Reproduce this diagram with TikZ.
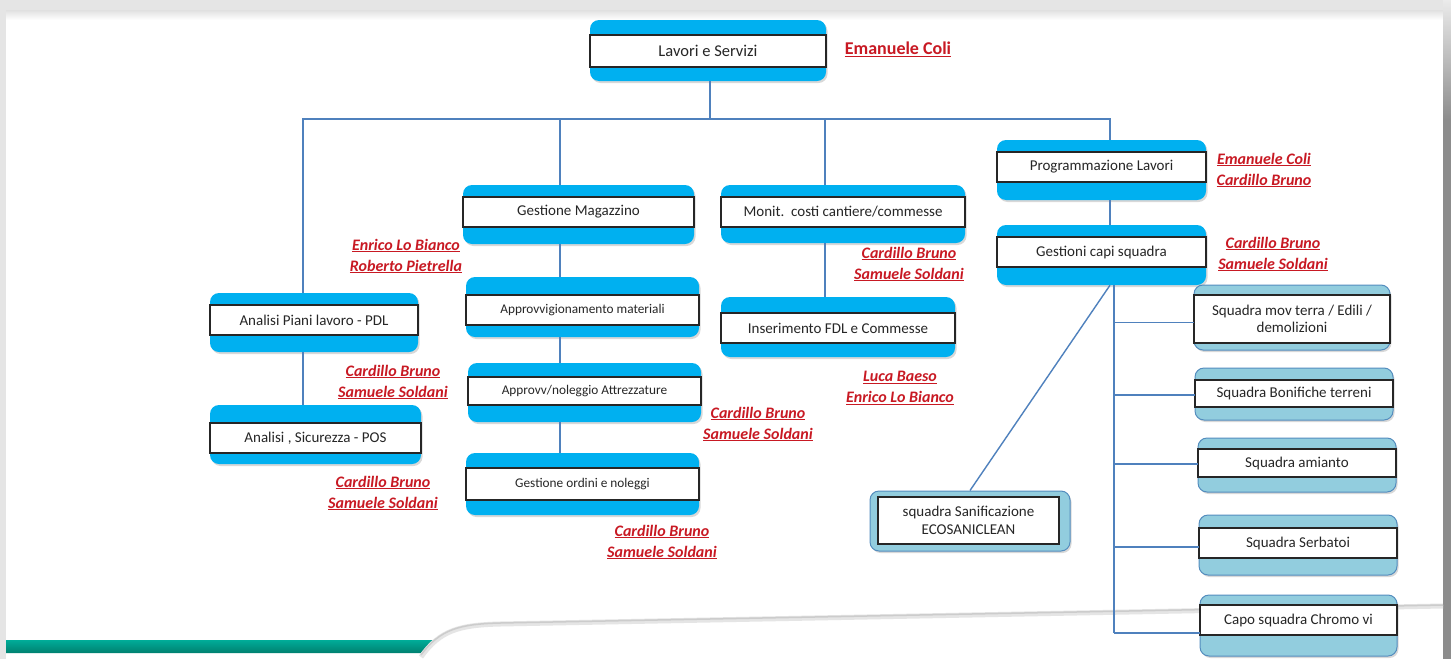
\documentclass[tikz,border=0pt]{standalone}
\usepackage{fontspec}
\setmainfont{Carlito}
\usetikzlibrary{fit,shadows}
\definecolor{bbl}{RGB}{0,176,240}
\definecolor{lbl}{RGB}{146,205,222}
\definecolor{lbd}{RGB}{84,141,190}
\definecolor{connc}{RGB}{79,129,189}
\definecolor{rd}{RGB}{200,25,35}
\definecolor{tealA}{RGB}{0,172,152}
\definecolor{tealB}{RGB}{0,128,112}
\tikzset{
  outerbox/.style={rounded corners=9pt, fill=bbl, draw=none,
    drop shadow={opacity=0.3, shadow xshift=1.5pt, shadow yshift=-2pt}},
  lightbox/.style={rounded corners=9pt, fill=lbl, draw=lbd, line width=1pt,
    drop shadow={opacity=0.3, shadow xshift=1.5pt, shadow yshift=-2pt}},
  whitebox/.style={fill=white, draw=black!85, line width=1.4pt},
  boxtext/.style={align=center, text=black!85, inner sep=0pt,
    font=\fontsize{15}{17.5}\selectfont},
  conn/.style={draw=connc, line width=1.4pt},
  lab/.style={text=rd, align=center, inner sep=0pt,
    font=\bfseries\itshape\fontsize{16}{21}\selectfont},
}
\newcommand\ob[9]{%
  \node[#2, fit={(#3,#4)(#5,#6)}, inner sep=0pt] (#1) {};
  \node[whitebox, fit={(#3,#7)(#5,#8)}, inner sep=0pt] (#1w) {};
  \node[boxtext] (#1t) at (#1w.center) {#9};
}
\newcommand\sm{\fontsize{13.3}{16}\selectfont}
\begin{document}
\begin{tikzpicture}[x=1pt,y=-1pt]
\useasboundingbox (0,0) rectangle (1451,659);
% background
\fill[black!10] (0,0) rectangle (1451,659);
\fill[white] (6,12) rectangle (1443,659);
\shade[top color=black!12, bottom color=white] (6,10) rectangle (1443,20);
\shade[top color=black!8, bottom color=black!45] (1443,0) rectangle (1451,120);
\fill[black!45] (1443,120) rectangle (1451,659);
% bottom decoration
\shade[top color=tealA, bottom color=tealB] (6,640) -- (433,640) -- (421,653) -- (6,653) -- cycle;
\draw[black!10, line width=5pt] (421,657) .. controls (440,630) and (460,625) .. (500,624) -- (1443,606);
\draw[black!20, line width=1.5pt] (421,655) .. controls (440,629) and (460,624) .. (500,623) -- (1443,605);
% boxes
\ob{top}{outerbox}{590}{20}{826}{81}{35}{67}{\fontsize{16.5}{19}\selectfont Lavori e Servizi}
\ob{gmag}{outerbox}{463}{185}{694}{244}{197}{227}{Gestione Magazzino}
\ob{monit}{outerbox}{721}{185}{965}{243}{197}{227}{Monit.\ \ costi cantiere/commesse}
\ob{fdl}{outerbox}{721}{297}{955}{357}{313}{343}{Inserimento FDL e Commesse}
\ob{apdl}{outerbox}{210}{293}{418}{352}{305}{335}{Analisi Piani lavoro - PDL}
\ob{apos}{outerbox}{210}{405}{421}{464}{423}{453}{Analisi , Sicurezza - POS}
\ob{appr}{outerbox}{466}{277}{699}{337}{295}{325}{\sm Approvvigionamento materiali}
\ob{attr}{outerbox}{468}{363}{701}{422}{377}{405}{\sm Approvv/noleggio Attrezzature}
\ob{ord}{outerbox}{466}{453}{699}{515}{468}{500}{\sm Gestione ordini e noleggi}
\ob{prog}{outerbox}{997}{140}{1206}{200}{152}{182}{Programmazione Lavori}
\ob{gcs}{outerbox}{997}{225}{1206}{285}{237}{267}{Gestioni capi squadra}
\ob{sq1}{lightbox}{1194}{285}{1390}{350}{295}{343}{Squadra mov terra / Edili /\\demolizioni}
\ob{sq2}{lightbox}{1195}{368}{1393}{420}{380}{407}{Squadra Bonifiche terreni}
\ob{sq3}{lightbox}{1198}{438}{1396}{492}{449}{477}{Squadra amianto}
\ob{sq4}{lightbox}{1199}{515}{1397}{575}{528}{558}{Squadra Serbatoi}
\ob{sq5}{lightbox}{1200}{595}{1397}{656}{605}{635}{Capo squadra Chromo vi}
\node[lightbox, fit={(870,491)(1070,551)}, inner sep=0pt] (san) {};
\node[whitebox, fit={(878,497)(1059,544)}, inner sep=0pt] (sanw) {};
\node[boxtext] (sant) at (sanw.center) {squadra Sanificazione\\ECOSANICLEAN};
% connectors
\coordinate (bt) at (710,119);
\coordinate (b1) at (303,119);
\coordinate (b2) at (560,119);
\coordinate (b3) at (825,119);
\coordinate (b4) at (1110,119);
\coordinate (vb) at (1114,633);
\draw[conn] (bt |- top.south) -- (bt);
\draw[conn] (b1 |- apdl.north) -- (b1) -- (b4) -- (b4 |- prog.north);
\draw[conn] (b2) -- (b2 |- gmag.north);
\draw[conn] (b3) -- (b3 |- monit.north);
\draw[conn] (b1 |- apdl.south) -- (b1 |- apos.north);
\draw[conn] (b2 |- gmag.south) -- (b2 |- appr.north);
\draw[conn] (b2 |- appr.south) -- (b2 |- attr.north);
\draw[conn] (b2 |- attr.south) -- (b2 |- ord.north);
\draw[conn] (b3 |- monit.south) -- (b3 |- fdl.north);
\draw[conn] (b4 |- prog.south) -- (b4 |- gcs.north);
\draw[conn] (b4 |- gcs.south) -- (san.north);
\draw[conn] (vb |- gcs.south) -- (vb);
\draw[conn] ([yshift=-5pt]vb |- sq1.west) -- ([yshift=-5pt]sq1.west);
\draw[conn] ([yshift=-1pt]vb |- sq2.west) -- ([yshift=-1pt]sq2.west);
\draw[conn] ([yshift=1pt]vb |- sq3.west) -- ([yshift=1pt]sq3.west);
\draw[conn] ([yshift=-2pt]vb |- sq4.west) -- ([yshift=-2pt]sq4.west);
\draw[conn] (vb) -- (vb -| sq5.west);
% labels
\node[lab, font=\bfseries\fontsize{18}{21}\selectfont] (l1) at (898,49) {\underline{Emanuele Coli}};
\node[lab] (l2) at (406,256) {\underline{Enrico Lo Bianco}\\\underline{Roberto Pietrella}};
\node[lab] (l3) at (909,264) {\underline{Cardillo Bruno}\\\underline{Samuele Soldani}};
\node[lab] (l4) at (900,388) {\underline{Luca Baeso}\\\underline{Enrico Lo Bianco}};
\node[lab] (l5) at (393,382) {\underline{Cardillo Bruno}\\\underline{Samuele Soldani}};
\node[lab] (l6) at (383,493) {\underline{Cardillo Bruno}\\\underline{Samuele Soldani}};
\node[lab] (l7) at (758,424) {\underline{Cardillo Bruno}\\\underline{Samuele Soldani}};
\node[lab] (l8) at (662,542) {\underline{Cardillo Bruno}\\\underline{Samuele Soldani}};
\node[lab] (l9) at (1264,170) {\underline{Emanuele Coli}\\\underline{Cardillo Bruno}};
\node[lab] (l10) at (1273,254) {\underline{Cardillo Bruno}\\\underline{Samuele Soldani}};
\end{tikzpicture}
\end{document}
